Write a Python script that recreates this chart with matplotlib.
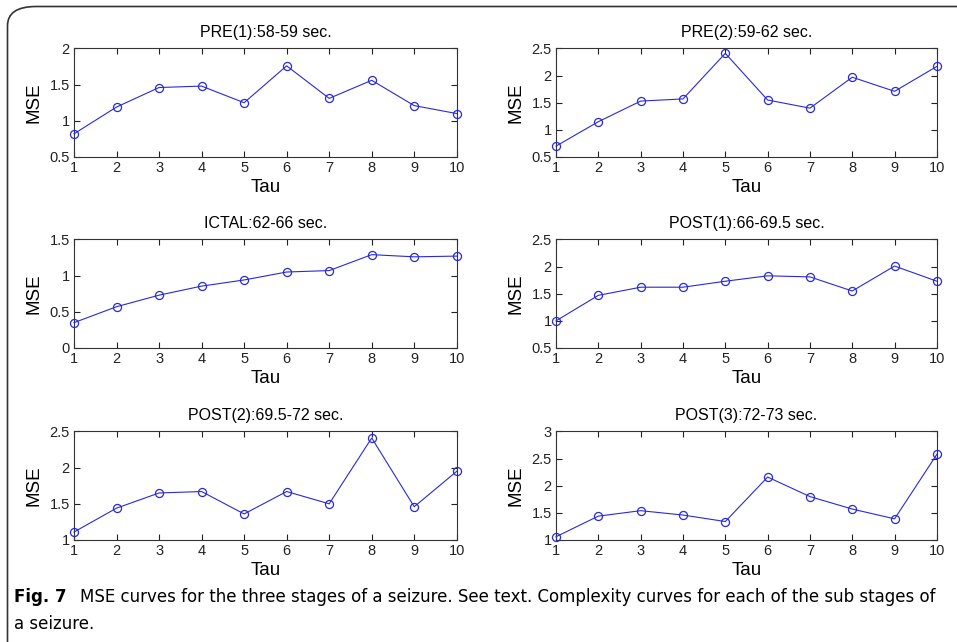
import numpy as np
import matplotlib
matplotlib.use('Agg')
import matplotlib.pyplot as plt
from matplotlib.patches import FancyBboxPatch

tau = [1, 2, 3, 4, 5, 6, 7, 8, 9, 10]

titles = ['PRE(1):58-59 sec.', 'PRE(2):59-62 sec.', 'ICTAL:62-66 sec.',
          'POST(1):66-69.5 sec.', 'POST(2):69.5-72 sec.', 'POST(3):72-73 sec.']

pre1 = [0.82, 1.19, 1.46, 1.48, 1.25, 1.76, 1.31, 1.56, 1.21, 1.10]
pre2 = [0.70, 1.15, 1.53, 1.57, 2.41, 1.55, 1.40, 1.97, 1.71, 2.17]
ictal = [0.35, 0.57, 0.73, 0.855, 0.94, 1.05, 1.07, 1.29, 1.26, 1.27]
post1 = [1.00, 1.47, 1.62, 1.62, 1.73, 1.83, 1.81, 1.55, 2.01, 1.73]
post2 = [1.11, 1.44, 1.65, 1.67, 1.36, 1.67, 1.50, 2.41, 1.46, 1.95]
post3 = [1.06, 1.44, 1.54, 1.46, 1.34, 2.16, 1.80, 1.57, 1.39, 2.58]

series = [pre1, pre2, ictal, post1, post2, post3]
ylims = [(0.5, 2), (0.5, 2.5), (0, 1.5), (0.5, 2.5), (1, 2.5), (1, 3)]

plt.rcParams['font.family'] = ['Liberation Sans', 'DejaVu Sans']

fig = plt.figure(figsize=(9.57, 6.42), dpi=100)

# rounded frame of the figure panel
frame = FancyBboxPatch((7.5 / 957, -0.05), 1.2, 1 - 6.5 / 642 + 0.05,
                       boxstyle='round,pad=0,rounding_size=0.03',
                       transform=fig.transFigure, fill=False,
                       edgecolor='#333333', linewidth=1.2, clip_on=False)
fig.patches.append(frame)

lefts = [0.0773, 0.581]
bottoms = [0.7555, 0.458, 0.1589]
widths = [0.400, 0.398]
height = 0.169

for i, y in enumerate(series):
    r, c = divmod(i, 2)
    ax = fig.add_axes([lefts[c], bottoms[r], widths[c], height])
    ax.plot(tau, y, '-o', color='#2a2ad8', linewidth=0.8, markersize=5.8,
            markerfacecolor='none', markeredgecolor='#2a2ad8', markeredgewidth=0.9,
            clip_on=False, zorder=3)
    ax.set_xlim(1, 10)
    ax.set_ylim(*ylims[i])
    ax.set_xticks(tau)
    ax.set_yticks(np.arange(ylims[i][0], ylims[i][1] + 0.01, 0.5))
    ax.yaxis.set_major_formatter(matplotlib.ticker.FormatStrFormatter('%g'))
    ax.tick_params(direction='in', top=True, right=True, length=4,
                   width=0.8, labelsize=10.5, pad=3, colors='#222222')
    for s in ax.spines.values():
        s.set_linewidth(0.8)
        s.set_color('#333333')
    ax.set_title(titles[i], fontsize=11.5, pad=8)
    ax.set_xlabel('Tau', fontsize=13.5, labelpad=3)
    ax.set_ylabel('MSE', fontsize=13.5, labelpad=5)

fig.text(14 / 957, 1 - 597 / 642, 'Fig. 7', fontsize=12, fontweight='bold',
         va='center', ha='left', family='DejaVu Sans')
fig.text(80 / 957, 1 - 597 / 642,
         'MSE curves for the three stages of a seizure. See text. Complexity curves for each of the sub stages of',
         fontsize=12, va='center', ha='left', family='DejaVu Sans')
fig.text(14 / 957, 1 - 624 / 642, 'a seizure.',
         fontsize=12, va='center', ha='left', family='DejaVu Sans')

fig.savefig('out.png', dpi=100)
